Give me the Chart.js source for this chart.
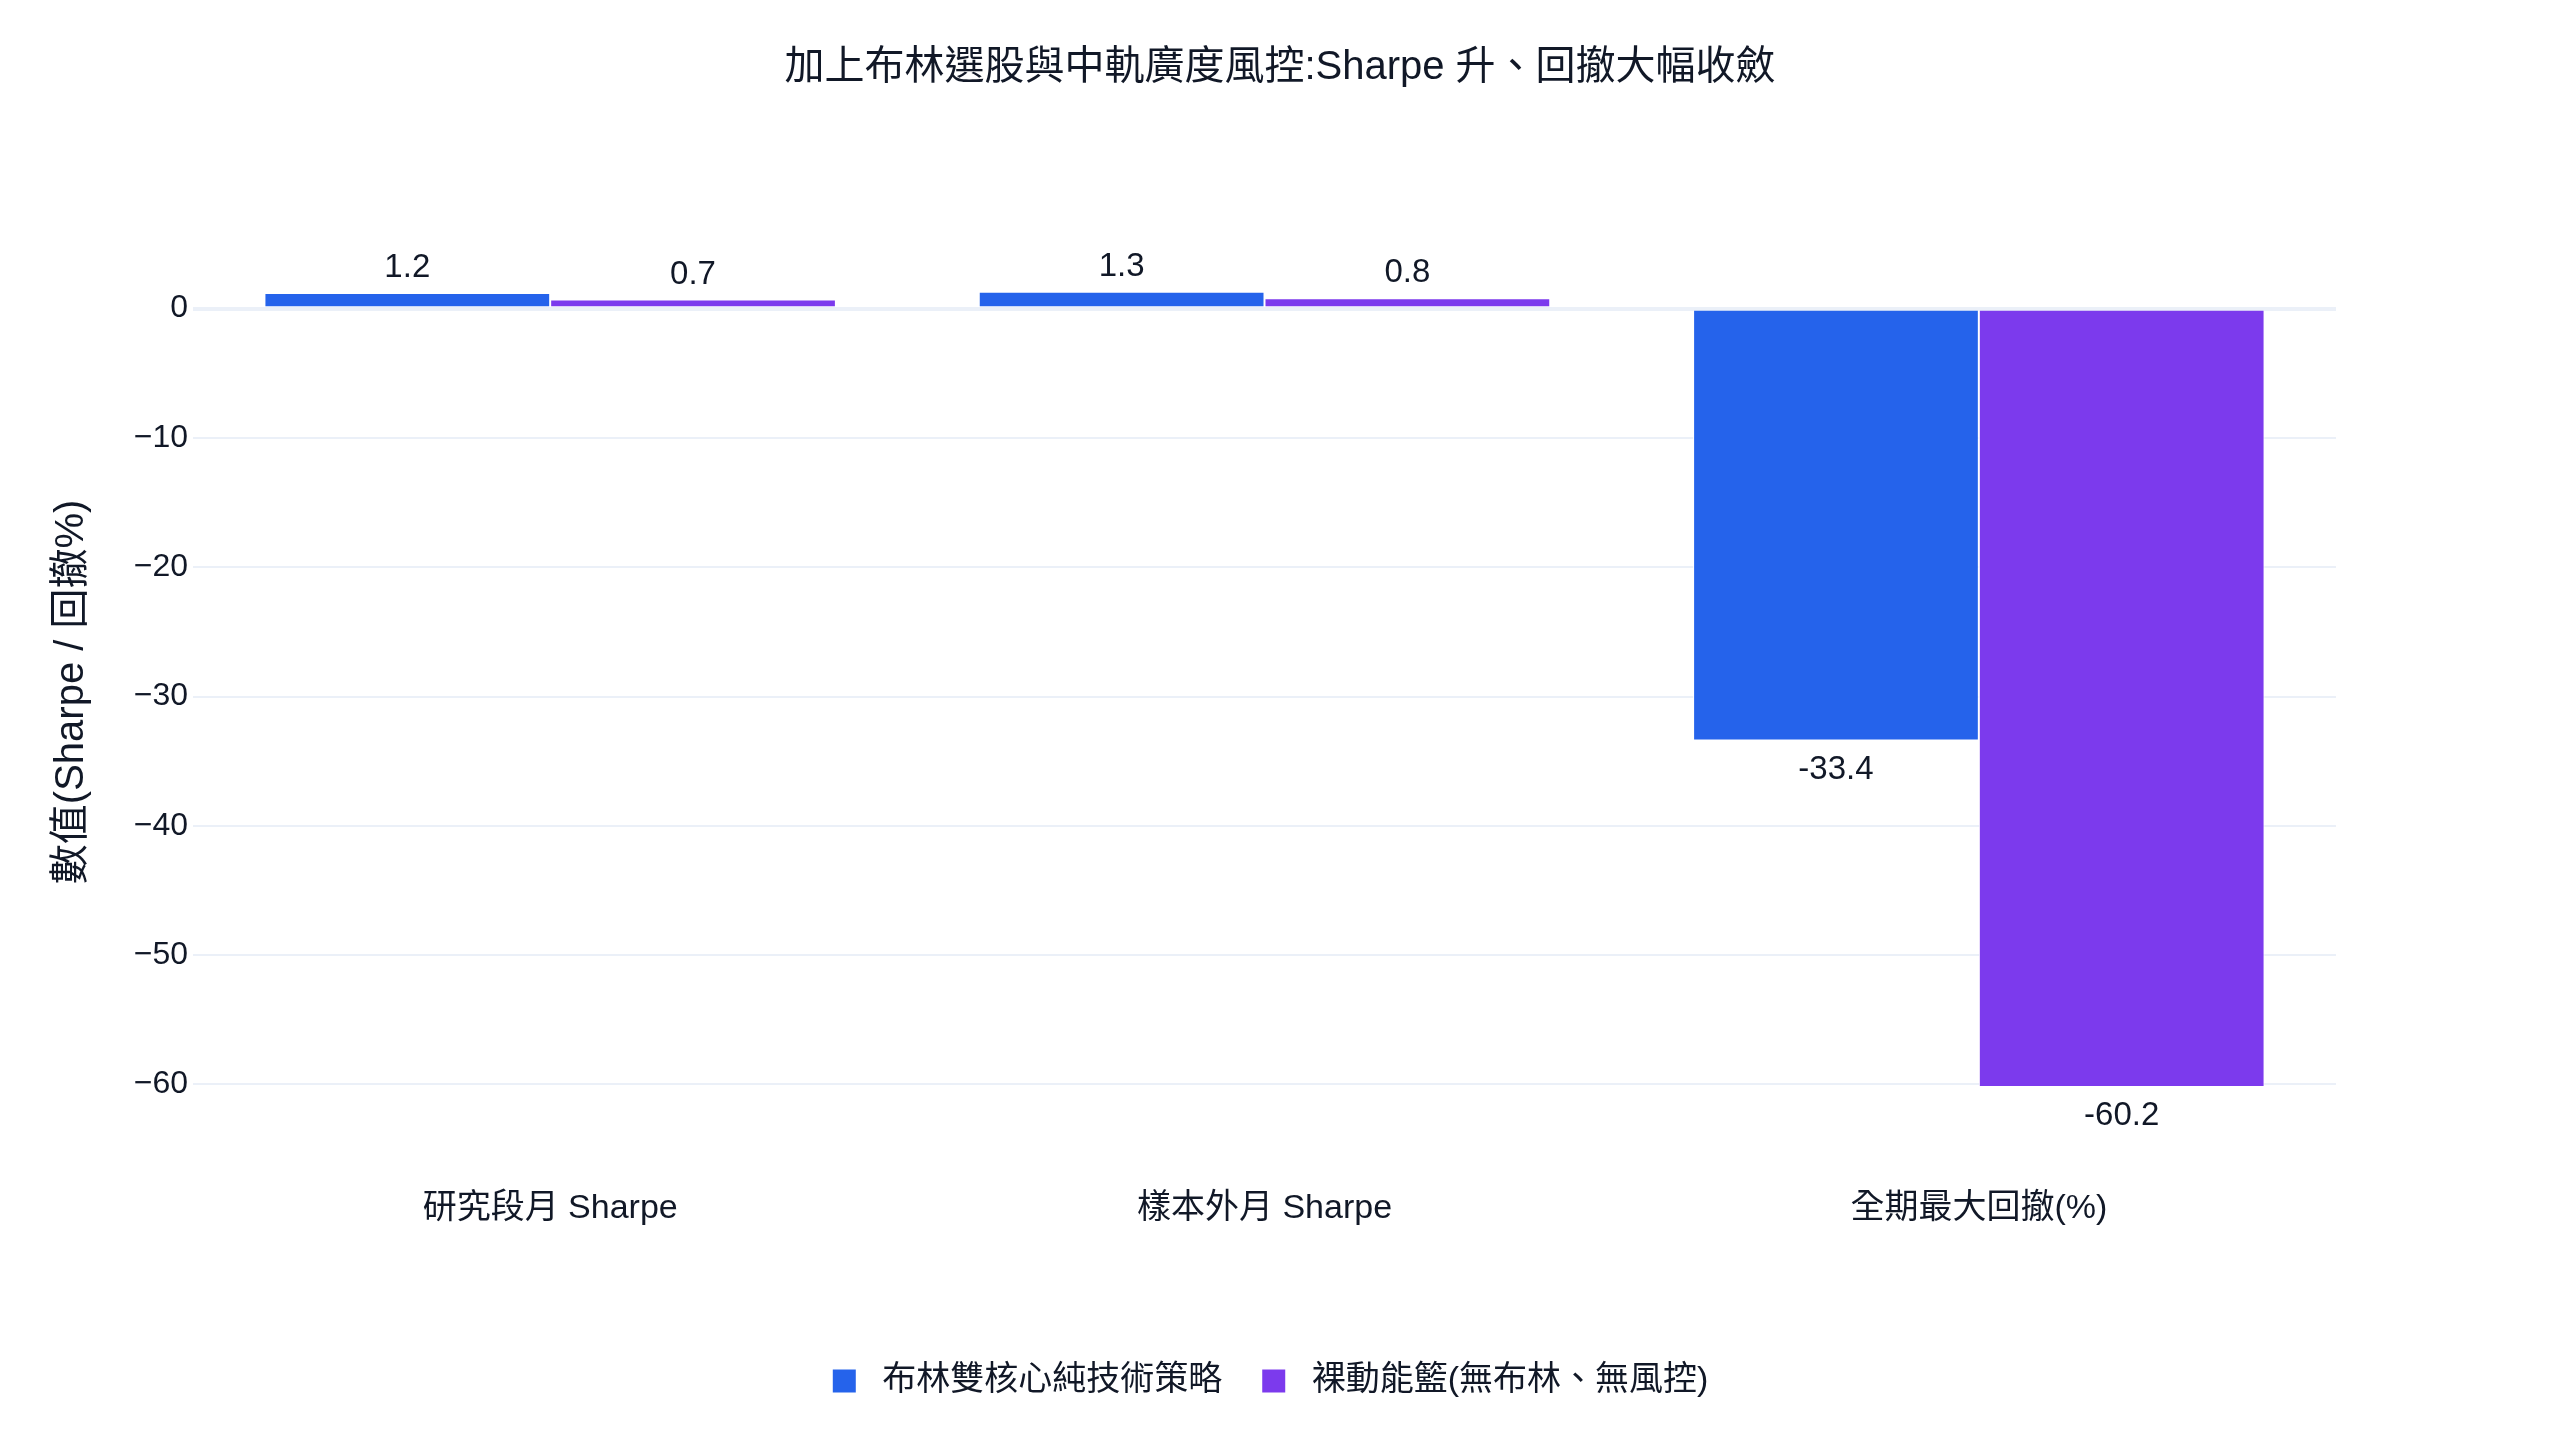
<!DOCTYPE html>
<html lang="zh-Hant">
<head>
    <meta charset="UTF-8">
    <title>布林選股 Sharpe 與回撤比較</title>
    <script src="https://cdn.jsdelivr.net/npm/chart.js@4.4.1/dist/chart.umd.min.js"></script>
</head>
<style>
    html, body {
        margin: 0;
        padding: 0;
        background: #ffffff;
    }
    .lienzo {
        width: 2560px;
        height: 1440px;
    }
</style>
<body>
    <div class="lienzo">
        <canvas id="grafica"></canvas>
    </div>

    <script>
        // datos
        const categorias = ["研究段月 Sharpe", "樣本外月 Sharpe", "全期最大回撤(%)"];
        const bollinger = [1.2, 1.3, -33.4];
        const momentum = [0.7, 0.8, -60.2];
        const nombresSeries = ["布林雙核心純技術策略", "裸動能籃(無布林、無風控)"];
        const ticksY = [0, -10, -20, -30, -40, -50, -60];
        const etiquetasY = ["0", "−10", "−20", "−30", "−40", "−50", "−60"];

        const fuente = '"Liberation Sans", "Noto Sans CJK TC", sans-serif';
        const colorTexto = "#111827";
        const colorGrid = "#EBF0F8";

        // etiquetas de valor fuera de cada barra
        const etiquetasValor = {
            id: "etiquetasValor",
            afterDatasetsDraw(chart) {
                const ctx = chart.ctx;
                ctx.save();
                ctx.font = "33px " + fuente;
                ctx.fillStyle = colorTexto;
                ctx.textAlign = "center";
                ctx.textBaseline = "alphabetic";
                chart.data.datasets.forEach((ds, i) => {
                    chart.getDatasetMeta(i).data.forEach((barra, j) => {
                        const v = ds.data[j];
                        const y = v >= 0 ? barra.y - 16 : barra.y + 38;
                        ctx.fillText(v.toFixed(1), barra.x, y);
                    });
                });
                ctx.restore();
            }
        };

        new Chart(document.querySelector("#grafica"), {
            type: "bar",
            data: {
                labels: categorias,
                datasets: [
                    {
                        label: nombresSeries[0],
                        data: bollinger,
                        backgroundColor: "#2563EB",
                        borderColor: "#ffffff",
                        borderWidth: 1,
                        categoryPercentage: 0.8,
                        barPercentage: 1.0,
                    },
                    {
                        label: nombresSeries[1],
                        data: momentum,
                        backgroundColor: "#7C3AED",
                        borderColor: "#ffffff",
                        borderWidth: 1,
                        categoryPercentage: 0.8,
                        barPercentage: 1.0,
                    },
                ],
            },
            options: {
                responsive: true,
                maintainAspectRatio: false,
                devicePixelRatio: 1,
                animation: false,
                layout: {
                    padding: { left: 0, right: 0, top: 0, bottom: 32 },
                },
                plugins: {
                    title: {
                        display: true,
                        text: "加上布林選股與中軌廣度風控:Sharpe 升、回撤大幅收斂",
                        color: colorTexto,
                        font: { family: fuente, size: 40, weight: "normal" },
                        padding: { top: 44, bottom: 139 },
                    },
                    legend: {
                        position: "bottom",
                        labels: {
                            color: colorTexto,
                            font: { family: fuente, size: 34 },
                            boxWidth: 23,
                            boxHeight: 23,
                            padding: 40,
                            generateLabels(chart) {
                                const items = Chart.defaults.plugins.legend.labels.generateLabels(chart);
                                return items.map((l, i) => ({
                                    ...l,
                                    text: " " + l.text + (i === items.length - 1 ? "  " : ""),
                                    lineWidth: 0,
                                }));
                            },
                        },
                    },
                    tooltip: { enabled: false },
                },
                scales: {
                    x: {
                        grid: { display: false },
                        border: { display: false },
                        ticks: {
                            color: colorTexto,
                            font: { family: fuente, size: 34 },
                            padding: 5,
                            maxRotation: 0,
                        },
                        afterFit(scale) {
                            scale.height = 149;
                        },
                    },
                    y: {
                        min: -67,
                        max: 6,
                        border: { display: false },
                        grid: {
                            color: colorGrid,
                            lineWidth: (c) => (c.tick && c.tick.value === 0 ? 4 : 2),
                            drawTicks: false,
                        },
                        ticks: {
                            color: colorTexto,
                            font: { family: fuente, size: 32 },
                            padding: 5,
                            callback: (v) => etiquetasY[ticksY.indexOf(v)],
                        },
                        afterBuildTicks(scale) {
                            scale.ticks = ticksY.map((v) => ({ value: v }));
                        },
                        afterFit(scale) {
                            scale.width = 193;
                        },
                        title: {
                            display: true,
                            text: "  數值(Sharpe / 回撤%)",
                            color: colorTexto,
                            font: { family: fuente, size: 40 },
                            padding: { top: 48, bottom: 0 },
                        },
                    },
                    derecha: {
                        type: "linear",
                        position: "right",
                        display: true,
                        grid: { display: false },
                        border: { display: false },
                        ticks: { display: false },
                        afterFit(scale) {
                            scale.width = 224;
                        },
                    },
                },
            },
            plugins: [etiquetasValor],
        });
    </script>
</body>
</html>
